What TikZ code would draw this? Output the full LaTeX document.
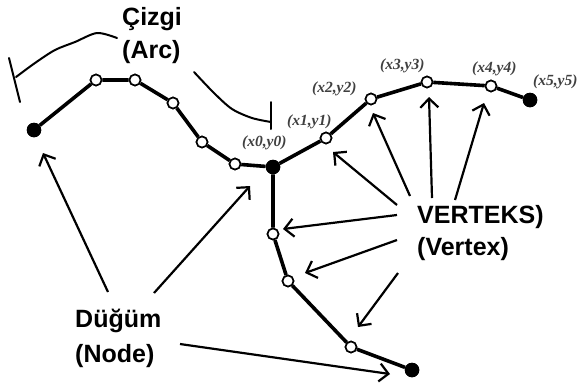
\documentclass[tikz,border=0pt]{standalone}
\usepackage{fontspec}
\setmainfont{Liberation Sans}
\newfontfamily\coordfont{Liberation Serif}
\usetikzlibrary{arrows.meta}
\begin{document}
\begin{tikzpicture}[x=1bp,y=-1bp,
  chain/.style={line width=3.6bp},
  onode/.style={circle,draw,fill=white,line width=1.6bp,minimum size=11bp,inner sep=0pt},
  fnode/.style={circle,fill=black,minimum size=14.5bp,inner sep=0pt},
  ptr/.style={line width=2.2bp,-{Straight Barb[length=9bp,width=18bp,line width=2.2bp]}},
  arcmark/.style={line width=2bp,line cap=round,line join=round},
  lbl/.style={font=\fontsize{25bp}{30bp}\selectfont\bfseries,anchor=base west,inner sep=0pt},
  xy/.style={font=\coordfont\fontsize{15.5bp}{18bp}\selectfont\bfseries\itshape,text=black!75,anchor=base west,inner sep=0pt}]
\useasboundingbox (0,0) rectangle (578,389);

% end nodes and vertices of the arcs
\node[fnode] (n0) at (34,130) {};
\node[fnode] (v0) at (273,167) {};
\node[fnode] (n5) at (530,100) {};
\node[fnode] (nb) at (412,370) {};
\node[onode] (a1) at (96,80) {};
\node[onode] (a2) at (135,80) {};
\node[onode] (a3) at (173,103) {};
\node[onode] (a4) at (202,142) {};
\node[onode] (a5) at (235,164) {};
\node[onode] (v1) at (326,138) {};
\node[onode] (v2) at (371,99) {};
\node[onode] (v3) at (427,82) {};
\node[onode] (v4) at (491,86) {};
\node[onode] (b1) at (273,234) {};
\node[onode] (b2) at (288,281) {};
\node[onode] (b3) at (351,347) {};

% polylines
\draw[chain] (n0) -- (a1) -- (a2) -- (a3) -- (a4) -- (a5) -- (v0);
\draw[chain] (v0) -- (v1) -- (v2) -- (v3) -- (v4) -- (n5);
\draw[chain] (v0) -- (b1) -- (b2) -- (b3) -- (nb);
% redraw markers above the lines
\foreach \n in {n0,v0,n5,nb}{\node[fnode] at (\n) {};}
\foreach \n in {a1,a2,a3,a4,a5,v1,v2,v3,v4,b1,b2,b3}{\node[onode] at (\n) {};}

% coordinate labels
\node[xy] (l0) at (242,146) {(x0,y0)};
\node[xy] (l1) at (287,125) {(x1,y1)};
\node[xy] (l2) at (312,92) {(x2,y2)};
\node[xy] (l3) at (380,69) {(x3,y3)};
\node[xy] (l4) at (472,72) {(x4,y4)};
\node[xy] (l5) at (533,85) {(x5,y5)};

% titles
\node[lbl] (t1) at (122,25) {Çizgi};
\node[lbl] (t2) at (122,58) {(Arc)};
\node[lbl] (t3) at (75,327) {Düğüm};
\node[lbl] (t4) at (75,362) {(Node)};
\node[lbl] (t5) at (417,223) {VERTEKS)};
\node[lbl] (t6) at (417,255) {(Vertex)};

% brackets marking one arc
\draw[arcmark] plot[smooth] coordinates {(16,77) (35,63) (55,50) (75,42) (97,33) (117,38)};
\draw[arcmark] (9,58) -- (20,102);
\draw[arcmark] plot[smooth] coordinates {(194,72) (214,93) (232,109) (252,118) (271,122)};
\draw[arcmark] (271,102) -- (271,129);

% pointers from the node label
\coordinate (d1s) at (108,292); \coordinate (d1e) at (43,153);
\coordinate (d2s) at (154,293); \coordinate (d2e) at (250,186);
\coordinate (d3s) at (180,344); \coordinate (d3e) at (390,374);
\draw[ptr] (d1s) -- (d1e);
\draw[ptr] (d2s) -- (d2e);
\draw[ptr] (d3s) -- (d3e);

% pointers from the vertex label
\coordinate (p1s) at (397,205); \coordinate (p1e) at (333,152);
\coordinate (p2s) at (410,196); \coordinate (p2e) at (373,113);
\coordinate (p3s) at (432,198); \coordinate (p3e) at (429,97);
\coordinate (p4s) at (455,200); \coordinate (p4e) at (484,103);
\coordinate (p5s) at (397,215); \coordinate (p5e) at (283,229);
\coordinate (p6s) at (397,240); \coordinate (p6e) at (305,273);
\coordinate (p7s) at (398,273); \coordinate (p7e) at (358,327);
\foreach \i in {1,...,7}{\draw[ptr] (p\i s) -- (p\i e);}
\end{tikzpicture}
\end{document}
